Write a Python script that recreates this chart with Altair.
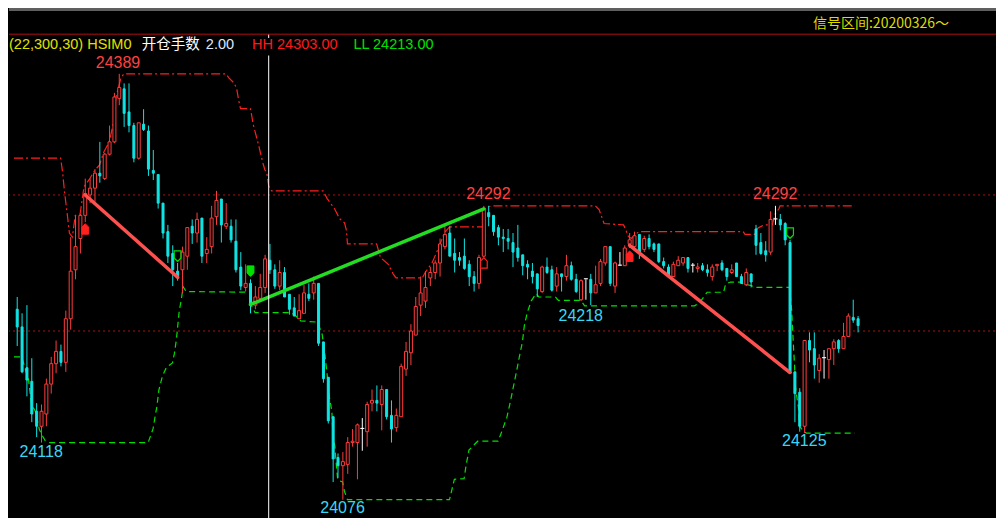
import altair as alt
import pandas as pd
import numpy as np

# ---------------- candle data (index, open, high, low, close) ----------------
opens = [24216, 24203, 24173, 24163, 24141, 24130, 24139, 24161, 24176, 24185,
         24177, 24209, 24245, 24268, 24285, 24300, 24305, 24316, 24312, 24330,
         24339, 24371, 24378, 24361, 24351, 24327, 24352, 24347, 24318, 24315,
         24294, 24273, 24257, 24244, 24245, 24255, 24277, 24272, 24283, 24257,
         24262, 24284, 24297, 24277, 24277, 24266, 24247, 24232, 24235, 24219,
         24224, 24232, 24252, 24245, 24233, 24243, 24227, 24217, 24209, 24213,
         24227, 24228, 24235, 24192, 24166, 24137, 24107, 24101, 24102, 24118,
         24118, 24128, 24126, 24147, 24149, 24146, 24157, 24138, 24129, 24137,
         24172, 24184, 24197, 24219, 24222, 24239, 24243, 24250, 24262, 24272,
         24257, 24254, 24255, 24249, 24240, 24235, 24255, 24287, 24285, 24276,
         24269, 24268, 24265, 24261, 24256, 24249, 24244, 24242, 24229, 24247,
         24245, 24233, 24242, 24240, 24248, 24238, 24223, 24238, 24238, 24228,
         24235, 24250, 24262, 24233, 24248, 24248, 24264, 24262, 24271, 24260,
         24268, 24264, 24264, 24251, 24247, 24240, 24248, 24250, 24254, 24248,
         24246, 24248, 24245, 24240, 24248, 24250, 24246, 24243, 24250, 24240,
         24234, 24242, 24275, 24265, 24259, 24258, 24282, 24282, 24279, 24265,
         24170, 24155, 24130, 24193, 24187, 24171, 24180, 24179, 24187, 24193,
         24187, 24196, 24210, 24209]
highs = [24225, 24213, 24219, 24180, 24147, 24146, 24165, 24181, 24193, 24190,
         24215, 24269, 24285, 24286, 24312, 24312, 24319, 24339, 24331, 24351,
         24375, 24389, 24382, 24382, 24353, 24353, 24363, 24351, 24333, 24315,
         24294, 24278, 24263, 24250, 24262, 24276, 24282, 24287, 24283, 24269,
         24292, 24303, 24297, 24294, 24282, 24282, 24258, 24249, 24238, 24233,
         24242, 24256, 24264, 24249, 24252, 24247, 24227, 24225, 24227, 24234,
         24235, 24240, 24235, 24192, 24166, 24137, 24110, 24111, 24122, 24128,
         24132, 24136, 24148, 24157, 24160, 24160, 24157, 24149, 24143, 24176,
         24192, 24205, 24225, 24240, 24244, 24247, 24252, 24268, 24277, 24277,
         24268, 24258, 24268, 24252, 24244, 24256, 24292, 24292, 24285, 24278,
         24275, 24275, 24272, 24278, 24256, 24252, 24250, 24242, 24248, 24254,
         24248, 24247, 24242, 24256, 24251, 24242, 24238, 24238, 24242, 24248,
         24253, 24262, 24262, 24251, 24258, 24263, 24272, 24273, 24271, 24270,
         24271, 24265, 24264, 24254, 24249, 24251, 24255, 24254, 24254, 24250,
         24250, 24250, 24249, 24249, 24249, 24252, 24246, 24249, 24250, 24242,
         24246, 24242, 24278, 24272, 24266, 24288, 24292, 24286, 24280, 24267,
         24170, 24158, 24193, 24199, 24199, 24183, 24186, 24187, 24194, 24194,
         24206, 24213, 24223, 24211]
lows = [24189, 24169, 24152, 24133, 24122, 24118, 24130, 24154, 24169, 24174,
        24170, 24201, 24238, 24257, 24280, 24294, 24295, 24309, 24311, 24329,
        24338, 24366, 24350, 24346, 24324, 24326, 24347, 24314, 24311, 24290,
        24268, 24250, 24233, 24237, 24228, 24245, 24264, 24265, 24250, 24250,
        24257, 24278, 24265, 24275, 24265, 24243, 24230, 24229, 24213, 24216,
        24224, 24228, 24242, 24231, 24230, 24225, 24212, 24211, 24209, 24213,
        24222, 24223, 24189, 24162, 24132, 24089, 24092, 24076, 24095, 24115,
        24091, 24112, 24115, 24141, 24141, 24127, 24135, 24118, 24126, 24137,
        24167, 24175, 24197, 24211, 24217, 24233, 24238, 24240, 24260, 24255,
        24243, 24248, 24245, 24233, 24229, 24231, 24254, 24277, 24270, 24263,
        24258, 24260, 24247, 24251, 24241, 24238, 24235, 24225, 24228, 24242,
        24229, 24229, 24229, 24237, 24237, 24228, 24222, 24223, 24219, 24228,
        24233, 24248, 24233, 24228, 24248, 24248, 24261, 24261, 24253, 24258,
        24260, 24258, 24250, 24246, 24240, 24240, 24248, 24248, 24243, 24243,
        24243, 24244, 24240, 24237, 24244, 24244, 24237, 24242, 24240, 24235,
        24233, 24232, 24256, 24256, 24251, 24256, 24278, 24274, 24263, 24169,
        24133, 24126, 24125, 24177, 24165, 24162, 24165, 24165, 24175, 24184,
        24187, 24196, 24206, 24199]
closes = [24203, 24170, 24164, 24139, 24130, 24141, 24161, 24176, 24185, 24177,
          24209, 24244, 24262, 24285, 24301, 24305, 24316, 24314, 24330, 24339,
          24372, 24379, 24360, 24351, 24327, 24353, 24348, 24319, 24316, 24294,
          24272, 24255, 24245, 24239, 24258, 24276, 24272, 24282, 24255, 24260,
          24283, 24296, 24278, 24279, 24267, 24245, 24233, 24235, 24219, 24225,
          24232, 24253, 24245, 24233, 24243, 24225, 24216, 24211, 24215, 24228,
          24224, 24235, 24191, 24165, 24134, 24106, 24101, 24104, 24118, 24119,
          24131, 24128, 24146, 24149, 24147, 24157, 24137, 24128, 24138, 24174,
          24185, 24200, 24218, 24228, 24232, 24243, 24250, 24264, 24271, 24255,
          24252, 24252, 24246, 24240, 24235, 24254, 24290, 24284, 24273, 24269,
          24268, 24266, 24258, 24254, 24248, 24247, 24240, 24231, 24247, 24243,
          24230, 24242, 24240, 24248, 24238, 24229, 24237, 24238, 24228, 24234,
          24251, 24262, 24235, 24250, 24248, 24261, 24267, 24270, 24258, 24268,
          24262, 24260, 24251, 24248, 24240, 24249, 24252, 24254, 24246, 24248,
          24247, 24245, 24243, 24247, 24249, 24245, 24240, 24245, 24240, 24235,
          24243, 24236, 24263, 24257, 24256, 24282, 24282, 24278, 24267, 24169,
          24154, 24130, 24193, 24186, 24175, 24180, 24180, 24187, 24192, 24187,
          24196, 24211, 24208, 24204]

# ---------------- channel lines (bar index, price) ----------------
upper_k = [-0.66, 8.94, 9.34, 9.74, 10.34, 10.74, 11.34, 11.94, 12.94, 13.74, 14.94, 15.94,
           16.94, 17.74, 18.94, 19.74, 20.34, 21.34, 21.94, 42.94, 43.54, 44.54, 45.14,
           45.54, 45.94, 47.94, 48.14, 48.54, 48.94, 49.74, 50.54, 50.94, 51.34, 51.74,
           52.34, 62.94, 63.74, 65.34, 66.34, 67.34, 67.74, 67.94, 73.94, 74.74, 76.34,
           77.34, 77.94, 83.34, 83.94, 85.34, 86.74, 87.94, 88.94, 95.74, 95.94, 96.94,
           97.94, 118.94, 119.74, 120.34, 120.74, 124.74, 125.14, 125.74, 126.34, 127.34,
           127.94, 149.34, 149.74, 151.74, 151.94, 152.54, 153.74, 155.34, 155.94, 156.74,
           156.94, 172.34]
upper_p = [24327, 24327, 24316.5, 24302, 24284.5, 24272, 24269, 24285, 24286, 24306, 24312,
           24318, 24322, 24331, 24339, 24352, 24372, 24386, 24389, 24389, 24386, 24382.5,
           24378.5, 24370, 24363.5, 24363.5, 24360.5, 24352, 24346.5, 24335.5, 24323.5,
           24318.5, 24316.5, 24306.5, 24303, 24303, 24297.5, 24289.5, 24282.5, 24279.5,
           24274, 24264, 24264, 24254, 24249, 24242, 24239, 24239, 24243, 24250, 24261.5,
           24272.5, 24276.5, 24276.5, 24289.5, 24291.5, 24292, 24292, 24289, 24283, 24279,
           24278, 24275, 24269.5, 24268, 24271.5, 24273, 24273, 24271, 24271, 24274, 24276,
           24278, 24278, 24286, 24290, 24292, 24292]
lower_k = [-0.66, 0.94, 1.34, 2.34, 2.94, 3.74, 4.54, 4.94, 5.74, 6.54, 26.94, 27.34, 27.94,
           28.34, 28.74, 29.14, 29.74, 30.14, 30.74, 31.14, 31.94, 32.34, 32.74, 32.94, 33.34,
           33.74, 34.14, 34.74, 47.94, 48.14, 48.94, 56.34, 57.34, 58.34, 61.74, 61.94, 62.74,
           63.34, 63.74, 64.14, 64.74, 64.94, 65.34, 65.74, 65.94, 66.94, 67.34, 67.94, 88.94,
           89.34, 89.94, 91.94, 92.34, 92.94, 94.74, 98.94, 99.74, 100.74, 101.34, 101.94,
           102.74, 103.34, 103.94, 104.34, 104.94, 105.74, 106.74, 107.34, 110.74, 111.34,
           115.94, 116.74, 139.34, 140.34, 141.34, 141.94, 145.34, 145.74, 146.74, 148.94,
           149.34, 150.94, 151.74, 158.74, 158.94, 159.34, 159.54, 159.74, 159.94, 160.0,
           160.34, 160.74, 160.94, 161.74, 162.34, 172.34]
lower_p = [24181, 24181, 24176, 24164, 24146, 24141, 24128, 24124.5, 24119.5, 24118, 24118,
           24122, 24128, 24136.5, 24144.5, 24156.5, 24165, 24169, 24173.5, 24174.5, 24176.5,
           24183.5, 24193.5, 24200.5, 24215, 24222.5, 24232.5, 24229, 24228.5, 24219, 24213.5,
           24213.5, 24211, 24207.5, 24206.5, 24205, 24197.5, 24181.5, 24169, 24153, 24141,
           24124.5, 24115.5, 24098, 24090.5, 24089, 24082, 24076, 24076, 24082, 24091, 24091.5,
           24101, 24112.5, 24119, 24119, 24126.5, 24136.5, 24146, 24156.5, 24170.5, 24181.5,
           24192, 24204, 24213.5, 24222, 24227.5, 24225, 24225, 24222.5, 24222.5, 24218.5,
           24218.5, 24220.5, 24225.5, 24228.5, 24228.5, 24234.5, 24236, 24236, 24234.5,
           24233.5, 24232, 24232, 24231, 24215, 24200.5, 24186.5, 24174.5, 24162, 24153,
           24143.5, 24130, 24126.5, 24125, 24125]

# trend segments: two short (red) and one long (green)
short1_k = [14.0, 33.0]
short1_p = [24300, 24239.5]
short2_k = [126.0, 159.0]
short2_p = [24263, 24169.5]
long1_k = [48.0, 96.0]
long1_p = [24219.5, 24289.7]

# signal markers
sig_kind = ["up_fill", "down_hollow", "down_fill", "up_hollow", "up_fill", "down_hollow"]
sig_k = [14, 33, 48, 96, 126, 159]
sig_p = [24275, 24255, 24244, 24250, 24255, 24272]

# extreme labels
hi_text = ["24389", "24292", "24292"]
hi_k = [20.74, 96.94, 155.94]
hi_p = [24397, 24301, 24301]
lo_text = ["24118", "24076", "24218", "24125"]
lo_k = [4.94, 66.94, 115.94, 161.94]
lo_p = [24111, 24070, 24211, 24119]

levels = [24300, 24200]
cursor_k = [51.74]

# ---------------- styling ----------------
W, H = 988, 510
SX, SY = W / 1004, H / 526
RED = "#ff3c3c"
CYAN = "#10e4e4"
WHITE = "#ffffff"
GREEN = "#00e000"

xs = alt.Scale(domain=[-0.66, 200.14], nice=False, zero=False)
ys = alt.Scale(domain=[24063.3, 24437.4], nice=False, zero=False)


def X(f):
    return alt.X(f, type="quantitative", scale=xs, axis=None)


def Y(f):
    return alt.Y(f, type="quantitative", scale=ys, axis=None)


df = pd.DataFrame(dict(k=np.arange(len(opens)), o=opens, h=highs, l=lows, c=closes))
df["dir"] = np.select([df.c > df.o, df.c < df.o], ["up", "down"], "flat")
df["top"] = df[["o", "c"]].max(axis=1)
df["bot"] = df[["o", "c"]].min(axis=1)
df["top"] = np.where(df.top - df.bot < 0.8, df.bot + 0.8, df.top)

dir_color = alt.Color("dir:N", scale=alt.Scale(domain=["up", "down", "flat"], range=[RED, CYAN, WHITE]), legend=None)

lev_df = pd.DataFrame({"p": levels})
up_df = pd.DataFrame({"k": upper_k, "p": upper_p, "i": range(len(upper_k))})
lo_df = pd.DataFrame({"k": lower_k, "p": lower_p, "i": range(len(lower_k))})
sig_df = pd.DataFrame({"kind": sig_kind, "k": sig_k, "p": sig_p})
hi_df = pd.DataFrame({"t": hi_text, "k": hi_k, "p": hi_p})
lo_lab_df = pd.DataFrame({"t": lo_text, "k": lo_k, "p": lo_p})
cur_df = pd.DataFrame({"k": cursor_k})

layers = []

layers.append(alt.Chart(lev_df).mark_rule(color="#a81010", strokeDash=[2, 3], strokeWidth=1).encode(y=Y("p")))

layers.append(alt.Chart(up_df).mark_line(color="#ff1e1e", strokeWidth=1.2, strokeDash=[9, 3, 2, 3]).encode(
    x=X("k"), y=Y("p"), order="i:Q"))
layers.append(alt.Chart(lo_df).mark_line(color=GREEN, strokeWidth=1.2, strokeDash=[6, 4]).encode(
    x=X("k"), y=Y("p"), order="i:Q"))

layers.append(alt.Chart(df).mark_rule(strokeWidth=1).encode(x=X("k"), y=Y("l"), y2=alt.Y2("h"), color=dir_color))
layers.append(alt.Chart(df[df.dir == "up"]).mark_bar(size=3, fill="black", stroke=RED, strokeWidth=1).encode(
    x=X("k"), y=Y("bot"), y2=alt.Y2("top")))
layers.append(alt.Chart(df[df.dir == "down"]).mark_bar(size=2, fill=CYAN, stroke=CYAN, strokeWidth=1).encode(
    x=X("k"), y=Y("bot"), y2=alt.Y2("top")))
layers.append(alt.Chart(df[df.dir == "flat"]).mark_bar(size=4, fill=WHITE, strokeWidth=0).encode(
    x=X("k"), y=Y("bot"), y2=alt.Y2("top")))

for tk, tp, tc in [(short1_k, short1_p, "#ff5050"), (short2_k, short2_p, "#ff5050"), (long1_k, long1_p, "#22dd22")]:
    layers.append(alt.Chart(pd.DataFrame({"k": tk, "p": tp})).mark_line(
        strokeWidth=3.5, strokeCap="round", color=tc).encode(x=X("k"), y=Y("p")))

UP = "M0,-1L0.65,-0.35L0.65,1L-0.65,1L-0.65,-0.35Z"
DOWN = "M-0.65,-1L0.65,-1L0.65,0.35L0,1L-0.65,0.35Z"
MS = 110
layers.append(alt.Chart(sig_df[sig_df.kind == "up_fill"]).mark_point(
    shape=UP, size=MS, filled=True, fill="#ff2020", stroke="#ff2020", strokeWidth=1, opacity=1).encode(x=X("k"), y=Y("p")))
layers.append(alt.Chart(sig_df[sig_df.kind == "up_hollow"]).mark_point(
    shape=UP, size=MS, filled=False, stroke="#ff2020", strokeWidth=1.2, opacity=1).encode(x=X("k"), y=Y("p")))
layers.append(alt.Chart(sig_df[sig_df.kind == "down_fill"]).mark_point(
    shape=DOWN, size=MS, filled=True, fill=GREEN, stroke=GREEN, strokeWidth=1, opacity=1).encode(x=X("k"), y=Y("p")))
layers.append(alt.Chart(sig_df[sig_df.kind == "down_hollow"]).mark_point(
    shape=DOWN, size=MS, filled=False, stroke=GREEN, strokeWidth=1.2, opacity=1).encode(x=X("k"), y=Y("p")))

LBL_FONT = "Liberation Sans Narrow, Liberation Sans"
layers.append(alt.Chart(hi_df).mark_text(font=LBL_FONT, fontSize=16, color="#ff4040", align="center", baseline="middle").encode(
    x=X("k"), y=Y("p"), text="t:N"))
layers.append(alt.Chart(lo_lab_df).mark_text(font=LBL_FONT, fontSize=16, color="#38d8f4", align="center", baseline="middle").encode(
    x=X("k"), y=Y("p"), text="t:N"))

layers.append(alt.Chart(cur_df).mark_rule(color="white", strokeWidth=1).encode(
    x=X("k"), y=alt.value(27 * SY), y2=alt.value(H)))

# header
one = pd.DataFrame({"a": [0]})
layers.append(alt.Chart(one).mark_rect(color="#5f5f5f").encode(
    x=alt.value(0), x2=alt.value(W), y=alt.value(0), y2=alt.value(3)))
layers.append(alt.Chart(one).mark_rect(color="black").encode(
    x=alt.value(0), x2=alt.value(440 * SX), y=alt.value(31 * SY), y2=alt.value(49 * SY)))
layers.append(alt.Chart(one).mark_rule(color="#b01010", strokeWidth=1).encode(
    x=alt.value(0), x2=alt.value(W), y=alt.value(27 * SY)))

header_items = [
    ("信号区间:20200326～", 817, 17, "#dcdc00", "Noto Sans CJK SC", 14),
    ("(22,300,30) HSIM0", 0, 38, "#e0e000", "Liberation Sans", 14.5),
    ("开仓手数", 135, 38, "#ffffff", "Noto Sans CJK SC", 14.5),
    ("2.00", 200, 38, "#dde8ff", "Liberation Sans", 14.5),
    ("HH 24303.00", 247, 38, "#ff1a1a", "Liberation Sans", 14.5),
    ("LL 24213.00", 350, 38, "#00e000", "Liberation Sans", 14.5),
]
for txt, hx, hy, col, fnt, fs in header_items:
    layers.append(alt.Chart(pd.DataFrame({"t": [txt]})).mark_text(
        align="left", baseline="middle", color=col, font=fnt, fontSize=fs).encode(
        x=alt.value(hx * SX), y=alt.value(hy * SY), text="t:N"))

chart = alt.layer(*layers).properties(
    width=W, height=H,
    autosize=alt.AutoSizeParams(type="fit", contains="padding"),
    padding=0, background="black",
).configure_view(strokeWidth=0)

chart.save("out.html", embed_options={"renderer": "svg", "actions": False})
